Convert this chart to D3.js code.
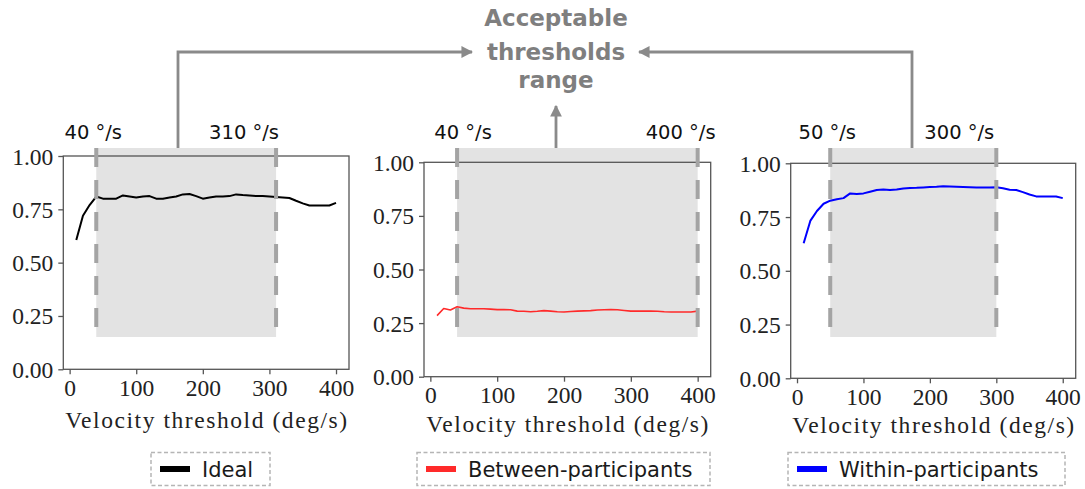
<!DOCTYPE html>
<html>
<head>
<meta charset="utf-8">
<script src="https://cdn.jsdelivr.net/npm/d3@7"></script>
<style>
  body { margin: 0; background: #fff; }
  svg { display: block; }
  .serif { font-family: "Liberation Serif", "DejaVu Serif", serif; }
</style>
</head>
<body>
<svg id="fig" width="1085" height="489"></svg>
<script>
// Velocity thresholds swept (deg/s)
const thresholds = [10, 20, 30, 40, 50, 60, 70, 80, 90, 100,
                    110, 120, 130, 140, 150, 160, 170, 180, 190, 200,
                    210, 220, 230, 240, 250, 260, 270, 280, 290, 300,
                    310, 320, 330, 340, 350, 360, 370, 380, 390, 400];

// Agreement score per threshold
const ideal = [0.606, 0.720, 0.770, 0.810, 0.800, 0.800, 0.800, 0.815, 0.810, 0.805,
               0.810, 0.812, 0.800, 0.800, 0.805, 0.810, 0.820, 0.822, 0.812, 0.800,
               0.805, 0.810, 0.810, 0.812, 0.820, 0.817, 0.815, 0.812, 0.812, 0.810,
               0.808, 0.806, 0.803, 0.790, 0.778, 0.768, 0.768, 0.768, 0.768, 0.780];

const between = [0.285, 0.318, 0.311, 0.326, 0.320, 0.317, 0.317, 0.317, 0.315, 0.313,
                 0.313, 0.312, 0.306, 0.305, 0.303, 0.305, 0.308, 0.306, 0.303, 0.302,
                 0.304, 0.306, 0.307, 0.308, 0.311, 0.312, 0.313, 0.312, 0.309, 0.306,
                 0.306, 0.306, 0.306, 0.305, 0.303, 0.302, 0.302, 0.302, 0.302, 0.306];

const within = [0.628, 0.732, 0.778, 0.812, 0.826, 0.833, 0.838, 0.860, 0.857, 0.860,
                0.868, 0.876, 0.878, 0.876, 0.878, 0.883, 0.885, 0.886, 0.888, 0.890,
                0.891, 0.893, 0.892, 0.891, 0.890, 0.889, 0.888, 0.887, 0.888, 0.889,
                0.884, 0.877, 0.876, 0.866, 0.855, 0.846, 0.846, 0.846, 0.846, 0.838];

const seriesNames = ["Ideal", "Between-participants", "Within-participants"];

// Acceptable threshold range for each condition (deg/s)
const rangeLow  = [40, 40, 50];
const rangeHigh = [310, 400, 300];

const xTicks = [0, 100, 200, 300, 400];
const yTicks = [0, 0.25, 0.5, 0.75, 1.0];
const titleLines = ["Acceptable", "thresholds", "range"];

// ---- styling / layout ----
const seriesColors = ["#000000", "#ff2a2a", "#0000ff"];
const lineWidths = [2, 1.6, 2];
const frames = [
  { left: 63.3,  top: 156.0, width: 285.7, height: 213.3, xlab: 59, legend: [151, 270], rangeDx: [-3, -32] },
  { left: 424.0, top: 162.3, width: 286.7, height: 214.4, xlab: 55, legend: [417, 710], rangeDx: [6, -17] },
  { left: 790.7, top: 163.3, width: 285.0, height: 215.0, xlab: 55, legend: [788, 1065], rangeDx: [-3, -37] }
];
const shadeTop = 148, shadeBottom = 337, dashBottom = 330;
const bracketY = 52;
const serif = "'Liberation Serif', 'DejaVu Serif', serif";

const svg = d3.select("#fig");
const allSeries = [ideal, between, within];

const defs = svg.append("defs");
defs.append("marker")
  .attr("id", "arrowhead")
  .attr("viewBox", "0 0 10 10")
  .attr("refX", 9).attr("refY", 5)
  .attr("markerWidth", 4.2).attr("markerHeight", 4.2)
  .attr("markerUnits", "strokeWidth")
  .attr("orient", "auto")
  .append("path")
  .attr("d", "M0,0 L10,5 L0,10 z")
  .attr("fill", "#8a8a8a");

frames.forEach((f, i) => {
  const x = d3.scaleLinear().domain([-9.5, 419.5]).range([f.left, f.left + f.width]);
  const y = d3.scaleLinear().domain([0, 1]).range([f.top + f.height, f.top]);
  const g = svg.append("g");

  // shaded acceptable range
  g.append("rect")
    .attr("x", x(rangeLow[i]))
    .attr("y", shadeTop)
    .attr("width", x(rangeHigh[i]) - x(rangeLow[i]))
    .attr("height", shadeBottom - shadeTop)
    .attr("fill", "#e3e3e3");

  // axes frame
  g.append("rect")
    .attr("x", f.left).attr("y", f.top)
    .attr("width", f.width).attr("height", f.height)
    .attr("fill", "none")
    .attr("stroke", "#555")
    .attr("stroke-width", 1.3);

  const xAxis = g.append("g")
    .attr("transform", `translate(0,${f.top + f.height})`)
    .call(d3.axisBottom(x).tickValues(xTicks).tickFormat(d3.format("d")).tickSize(5).tickSizeOuter(0).tickPadding(4));
  const yAxis = g.append("g")
    .attr("transform", `translate(${f.left},0)`)
    .call(d3.axisLeft(y).tickValues(yTicks).tickFormat(d3.format(".2f")).tickSize(5).tickSizeOuter(0).tickPadding(5));
  [xAxis, yAxis].forEach(a => {
    a.attr("font-family", serif).attr("font-size", 23.5);
    a.select(".domain").remove();
    a.selectAll(".tick line").attr("stroke", "#555").attr("stroke-width", 1.3);
    a.selectAll(".tick text")
      .attr("class", "serif")
      .attr("fill", "#222")
      .style("font-family", serif)
      .style("font-size", "23.5px");
  });
  yAxis.selectAll(".tick text").attr("dy", "0.34em");
  xAxis.selectAll(".tick text").attr("dy", "0.74em");

  g.append("text")
    .attr("class", "serif")
    .attr("x", f.left + f.width / 2)
    .attr("y", f.top + f.height + f.xlab)
    .attr("text-anchor", "middle")
    .attr("textLength", 282)
    .attr("lengthAdjust", "spacing")
    .attr("fill", "#222")
    .style("font-family", serif)
    .style("font-size", "23.5px")
    .text("Velocity threshold (deg/s)");

  // data line
  const line = d3.line()
    .x((d, k) => x(thresholds[k]))
    .y(d => y(d))
    .curve(d3.curveLinear);
  g.append("path")
    .datum(allSeries[i])
    .attr("d", line)
    .attr("fill", "none")
    .attr("stroke", seriesColors[i])
    .attr("stroke-width", lineWidths[i])
    .attr("stroke-linejoin", "round");

  // dashed boundaries
  [rangeLow[i], rangeHigh[i]].forEach(v => {
    g.append("line")
      .attr("x1", x(v)).attr("x2", x(v))
      .attr("y1", shadeTop).attr("y2", dashBottom)
      .attr("stroke", "#a4a4a4")
      .attr("stroke-width", 4)
      .attr("stroke-dasharray", "19,13");
  });

  // boundary labels
  [rangeLow[i], rangeHigh[i]].forEach((v, k) => {
    g.append("text")
      .attr("x", x(v) + f.rangeDx[k])
      .attr("y", 138.5)
      .attr("text-anchor", "middle")
      .attr("fill", "#111")
      .style("font-family", "'DejaVu Sans', sans-serif")
      .style("font-size", "19.5px")
      .text(`${v} °/s`);
  });

  // legend
  const [lx0, lx1] = f.legend;
  const lg = svg.append("g");
  lg.append("rect")
    .attr("x", lx0).attr("y", 452.5)
    .attr("width", lx1 - lx0).attr("height", 33)
    .attr("fill", "#fff")
    .attr("stroke", "#b5b5b5")
    .attr("stroke-width", 1.5)
    .attr("stroke-dasharray", "4,2.5");
  lg.append("rect")
    .attr("x", lx0 + 9).attr("y", 466)
    .attr("width", 30).attr("height", 6)
    .attr("fill", seriesColors[i]);
  lg.append("text")
    .attr("x", lx0 + 51)
    .attr("y", 477)
    .attr("fill", "#1a1a1a")
    .style("font-family", "'DejaVu Sans', sans-serif")
    .style("font-size", "21px")
    .text(seriesNames[i]);
});

// annotation: arrows pointing to the shared title
const ann = svg.append("g")
  .attr("fill", "none")
  .attr("stroke", "#8a8a8a")
  .attr("stroke-width", 2.8);
ann.append("path")
  .attr("d", `M178,${shadeTop} L178,${bracketY} L472,${bracketY}`)
  .attr("marker-end", "url(#arrowhead)");
ann.append("path")
  .attr("d", `M912,${shadeTop} L912,${bracketY} L639,${bracketY}`)
  .attr("marker-end", "url(#arrowhead)");
ann.append("path")
  .attr("d", `M556,${shadeTop} L556,106`)
  .attr("marker-end", "url(#arrowhead)");

svg.append("text")
  .attr("x", 556)
  .attr("text-anchor", "middle")
  .attr("fill", "#7f7f7f")
  .style("font-family", "'DejaVu Sans', sans-serif")
  .style("font-weight", "bold")
  .style("font-size", "23px")
  .selectAll("tspan")
  .data(titleLines)
  .join("tspan")
  .attr("x", 556)
  .attr("y", (d, k) => [26, 60, 88][k])
  .text(d => d);
</script>
</body>
</html>
